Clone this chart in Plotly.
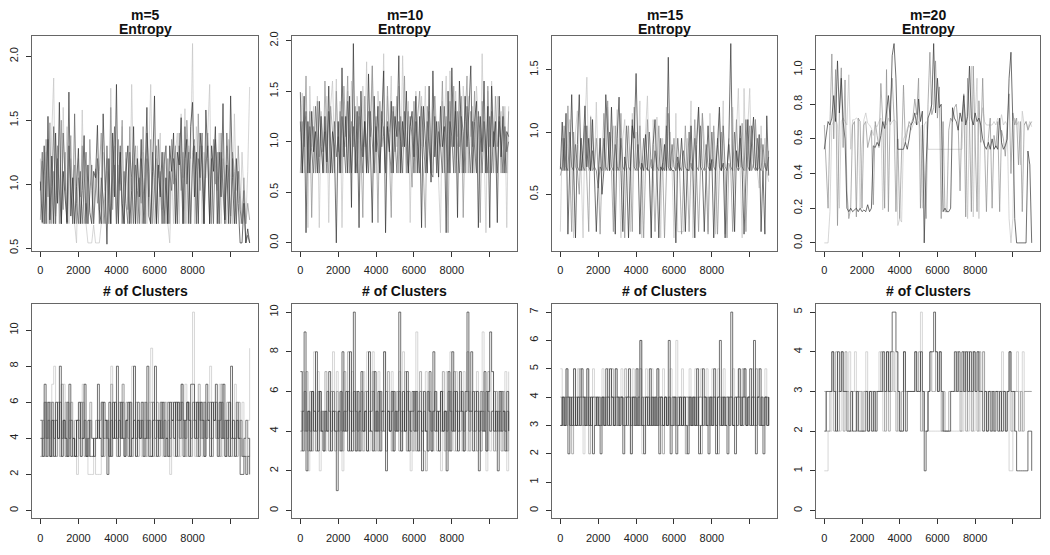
import plotly.graph_objects as go

ITER_STEP = 100  # thinning interval between stored draws

m_labels = ["m=5", "m=10", "m=15", "m=20"]
row_titles = ["Entropy", "# of Clusters"]
x_tickvals = [0, 2000, 4000, 6000, 8000, 10000]
x_ticktext = ["0", "2000", "4000", "6000", "8000", ""]

# ---------------- m = 5 ----------------
ent_m5_black = [
    1.02, 0.70, 1.30, 0.69, 1.53, 0.72, 1.22, 0.69, 1.40, 0.85,
    1.64, 0.69, 1.10, 0.92, 0.70, 1.72, 0.75, 1.05, 0.69, 0.98,
    1.28, 0.69, 0.95, 1.38, 0.69, 1.15, 0.78, 0.69, 1.10, 1.05,
    1.46, 0.80, 0.69, 1.55, 1.10, 0.53, 1.20, 0.69, 1.40, 0.90,
    1.78, 0.69, 1.25, 0.85, 0.69, 1.10, 1.30, 0.69, 0.95, 1.45,
    0.69, 1.20, 0.90, 1.35, 0.69, 1.05, 1.60, 0.75, 0.69, 1.10,
    1.69, 0.69, 1.15, 0.90, 1.25, 0.69, 1.05, 0.69, 1.30, 1.10,
    1.40, 0.69, 1.25, 1.15, 1.52, 0.69, 1.20, 1.35, 0.69, 1.45,
    1.64, 0.90, 1.25, 0.69, 1.40, 1.15, 0.69, 1.58, 1.20, 0.69,
    1.30, 1.10, 1.45, 0.69, 1.25, 0.90, 1.63, 0.72, 1.15, 0.69,
    1.69, 1.05, 0.69, 1.20, 0.85, 0.54, 0.54, 0.85, 0.54, 0.65, 0.54]
ent_m5_dark = [
    0.95, 1.25, 0.69, 1.10, 1.35, 0.69, 0.98, 1.45, 0.69, 1.20,
    0.90, 0.69, 1.40, 1.05, 0.69, 1.30, 0.95, 0.69, 1.55, 0.85,
    0.69, 1.10, 0.69, 1.00, 1.25, 0.69, 0.90, 1.15, 0.69, 0.95,
    1.20, 0.69, 1.05, 0.90, 0.69, 1.30, 0.85, 0.69, 1.15, 1.45,
    0.69, 0.95, 1.30, 0.69, 1.10, 0.85, 0.69, 1.25, 1.05, 0.69,
    1.15, 0.95, 0.69, 1.20, 1.00, 0.69, 1.40, 1.10, 0.69, 1.25,
    0.95, 0.69, 1.35, 1.05, 0.69, 1.15, 1.30, 0.69, 1.10, 0.95,
    1.20, 1.05, 0.69, 1.30, 1.10, 0.69, 1.45, 1.00, 1.25, 0.69,
    1.15, 1.30, 0.69, 1.20, 1.05, 1.40, 0.69, 1.15, 1.30, 0.69,
    1.20, 0.69, 1.35, 1.10, 0.69, 1.25, 1.00, 0.69, 1.40, 1.10,
    0.69, 1.20, 0.95, 0.69, 1.10, 0.80, 0.69, 0.95, 0.54, 0.60, 0.54]
ent_m5_mid = [
    0.72, 1.18, 0.69, 1.35, 0.90, 1.48, 0.69, 1.10, 0.75, 1.30,
    0.69, 1.50, 0.80, 1.25, 0.69, 1.05, 1.38, 0.69, 1.15, 0.69,
    1.05, 0.90, 1.30, 0.69, 0.85, 0.69, 1.35, 0.95, 0.69, 1.12,
    0.85, 1.10, 1.40, 0.69, 1.00, 1.20, 0.69, 1.60, 0.80, 1.15,
    0.69, 1.35, 0.95, 1.50, 0.69, 1.25, 0.80, 1.45, 0.69, 1.15,
    1.30, 0.69, 1.05, 0.85, 1.45, 0.69, 1.20, 0.90, 1.35, 0.69,
    1.05, 1.30, 0.69, 1.10, 0.80, 1.25, 0.69, 1.20, 0.69, 1.35,
    1.00, 1.30, 0.69, 1.40, 0.95, 1.25, 0.69, 1.50, 1.15, 0.69,
    1.25, 1.35, 0.69, 1.55, 0.95, 1.30, 0.69, 1.20, 1.40, 1.05,
    0.69, 1.35, 1.00, 1.25, 0.69, 1.40, 0.95, 0.69, 1.30, 1.05,
    0.75, 1.25, 1.10, 0.69, 1.30, 0.95, 0.69, 1.05, 0.69, 0.85, 0.72]
ent_m5_light = [
    1.20, 0.69, 1.10, 1.25, 0.69, 0.95, 1.40, 1.83, 0.69, 1.30,
    1.05, 0.69, 1.60, 0.95, 1.45, 0.69, 1.20, 1.00, 0.69, 0.54,
    1.20, 0.69, 1.58, 0.95, 0.69, 0.54, 0.54, 0.54, 0.68, 0.54,
    0.54, 0.54, 0.69, 1.25, 0.95, 1.10, 0.69, 1.75, 0.90, 1.30,
    0.69, 1.15, 1.00, 1.45, 0.69, 1.20, 0.95, 0.69, 1.78, 1.00,
    0.69, 1.30, 0.90, 0.69, 1.25, 1.10, 0.69, 1.35, 1.78, 0.95,
    0.69, 1.20, 1.05, 1.40, 0.69, 0.95, 1.30, 0.69, 0.54, 1.10,
    0.69, 1.25, 1.40, 0.69, 1.55, 1.05, 1.59, 0.69, 1.30, 1.20,
    2.10, 0.69, 1.45, 1.20, 1.30, 0.69, 1.25, 1.05, 1.40, 1.78,
    0.69, 1.30, 1.15, 0.95, 1.40, 0.69, 1.20, 1.05, 0.69, 1.35,
    1.05, 0.69, 1.55, 0.95, 1.10, 0.69, 1.25, 0.90, 0.69, 1.10, 1.76]
cl_m5_black = [
    4, 3, 7, 3, 6, 3, 5, 3, 6, 4,
    8, 3, 5, 4, 3, 7, 3, 4, 3, 5,
    6, 3, 4, 7, 3, 5, 3, 3, 4, 4,
    7, 4, 3, 6, 5, 2, 6, 3, 6, 4,
    8, 3, 6, 4, 3, 5, 6, 3, 4, 8,
    3, 5, 4, 6, 3, 4, 8, 3, 3, 5,
    8, 3, 5, 4, 6, 3, 4, 3, 6, 5,
    6, 3, 6, 5, 7, 3, 5, 6, 3, 7,
    7, 4, 6, 3, 6, 5, 3, 7, 5, 3,
    6, 5, 7, 3, 6, 4, 7, 3, 5, 3,
    8, 4, 3, 5, 4, 2, 2, 3, 2, 3, 2]
cl_m5_dark = [
    5, 4, 6, 4, 5, 3, 6, 4, 5, 4,
    6, 4, 5, 3, 6, 4, 5, 4, 3, 5,
    4, 6, 4, 5, 3, 4, 5, 4, 3, 4,
    5, 4, 6, 4, 5, 4, 3, 5, 4, 6,
    4, 5, 4, 6, 4, 5, 3, 6, 4, 5,
    4, 6, 4, 5, 4, 6, 4, 5, 3, 6,
    4, 5, 4, 6, 4, 5, 4, 6, 4, 5,
    4, 6, 5, 4, 6, 5, 4, 6, 5, 4,
    6, 5, 4, 6, 5, 4, 6, 4, 5, 6,
    4, 5, 6, 4, 5, 6, 4, 5, 4, 6,
    4, 5, 4, 6, 4, 5, 3, 4, 5, 4, 3]
cl_m5_mid = [
    3, 5, 3, 6, 4, 6, 3, 5, 3, 6,
    3, 7, 4, 6, 3, 5, 6, 3, 5, 3,
    5, 4, 6, 3, 4, 3, 6, 4, 3, 5,
    4, 5, 6, 3, 4, 5, 3, 7, 4, 5,
    3, 6, 4, 7, 3, 6, 4, 6, 3, 5,
    6, 3, 5, 4, 6, 3, 5, 4, 6, 3,
    5, 6, 3, 5, 4, 6, 3, 5, 3, 6,
    4, 6, 3, 6, 4, 5, 3, 6, 5, 3,
    5, 6, 3, 7, 4, 6, 3, 5, 6, 4,
    3, 6, 4, 5, 3, 7, 4, 3, 6, 5,
    3, 5, 4, 3, 6, 4, 3, 4, 3, 4, 3]
cl_m5_light = [
    5, 3, 4, 5, 3, 4, 7, 8, 3, 6,
    4, 3, 7, 4, 6, 3, 5, 4, 3, 2,
    5, 3, 7, 4, 3, 2, 2, 2, 3, 2,
    2, 2, 3, 5, 4, 5, 3, 8, 4, 6,
    3, 5, 4, 7, 3, 5, 4, 3, 8, 4,
    3, 6, 4, 3, 5, 5, 3, 6, 9, 4,
    3, 5, 4, 6, 3, 4, 6, 3, 2, 5,
    3, 5, 6, 3, 7, 4, 7, 3, 6, 5,
    11, 3, 6, 5, 6, 3, 5, 4, 6, 8,
    3, 6, 5, 4, 7, 3, 5, 4, 3, 6,
    4, 3, 7, 4, 5, 3, 6, 4, 5, 5, 9]

# ---------------- m = 10 ----------------
ent_m10_black = [
    1.49, 0.69, 1.45, 0.10, 1.20, 0.69, 1.30, 0.90, 1.10, 0.69,
    1.40, 0.95, 0.69, 1.25, 0.80, 1.55, 0.69, 1.10, 0.95, 0.00,
    1.20, 0.69, 1.73, 0.85, 1.25, 0.69, 1.45, 0.35, 1.97, 0.69,
    1.30, 0.15, 1.50, 0.85, 1.20, 0.69, 1.67, 0.95, 0.20, 1.45,
    0.90, 1.35, 0.69, 1.20, 1.70, 0.10, 1.15, 0.90, 1.40, 0.69,
    1.25, 1.05, 1.85, 0.69, 1.20, 0.95, 1.50, 0.69, 1.15, 1.30,
    0.85, 1.45, 0.69, 1.25, 0.15, 1.35, 1.00, 0.69, 1.55, 0.60,
    1.70, 0.85, 1.20, 0.65, 1.35, 0.95, 1.15, 0.10, 1.50, 0.69,
    1.73, 0.95, 1.40, 0.25, 1.60, 1.10, 0.69, 1.45, 0.95, 1.30,
    1.75, 0.69, 1.20, 1.40, 0.15, 1.25, 0.90, 1.60, 0.69, 1.35,
    0.15, 1.55, 0.95, 1.20, 0.20, 1.45, 0.85, 1.25, 0.69, 1.10, 1.05]
ent_m10_dark = [
    1.20, 0.69, 1.05, 1.30, 0.69, 1.15, 0.90, 0.69, 1.35, 1.00,
    0.69, 1.25, 0.90, 1.10, 0.69, 1.30, 0.95, 0.69, 1.20, 0.85,
    1.05, 0.69, 1.25, 0.95, 0.69, 1.40, 1.05, 0.69, 1.15, 0.90,
    0.69, 1.35, 1.05, 0.69, 1.20, 0.95, 0.69, 1.30, 1.00, 0.69,
    1.15, 0.90, 0.69, 1.30, 1.05, 0.69, 1.20, 0.95, 0.69, 1.35,
    1.05, 0.69, 1.20, 1.00, 0.69, 1.30, 0.95, 0.69, 1.25, 1.05,
    0.69, 1.20, 0.95, 0.69, 1.35, 1.05, 0.69, 1.20, 0.90, 0.69,
    0.65, 1.25, 0.69, 1.10, 0.95, 0.69, 1.35, 1.05, 0.69, 1.20,
    1.05, 0.69, 1.30, 0.95, 0.69, 1.25, 1.10, 0.69, 1.35, 1.00,
    0.69, 1.20, 0.95, 0.69, 1.30, 1.05, 0.69, 1.20, 0.95, 0.69,
    1.25, 0.69, 1.10, 0.95, 0.69, 1.20, 1.00, 0.69, 1.15, 0.90, 1.00]
ent_m10_mid = [
    0.69, 1.20, 0.95, 1.65, 0.69, 1.30, 0.25, 1.15, 0.69, 1.40,
    0.85, 1.25, 0.69, 1.60, 0.95, 0.69, 1.35, 1.10, 0.69, 1.50,
    0.90, 1.30, 0.69, 1.55, 1.05, 1.65, 0.69, 1.20, 0.95, 1.35,
    0.69, 1.25, 0.95, 0.25, 1.45, 0.69, 1.30, 1.05, 1.75, 0.69,
    1.25, 0.20, 1.40, 0.95, 1.15, 0.69, 1.55, 0.85, 0.25, 1.30,
    0.90, 1.45, 0.69, 1.25, 0.95, 1.65, 0.69, 1.30, 0.95, 0.55,
    1.40, 0.69, 1.25, 1.50, 0.95, 0.69, 0.15, 1.35, 1.05, 0.69,
    1.30, 1.45, 0.69, 1.20, 0.95, 1.60, 0.69, 1.25, 0.10, 1.40,
    0.95, 1.55, 0.69, 1.30, 0.95, 1.45, 0.25, 1.20, 1.65, 0.69,
    1.30, 0.95, 1.50, 0.69, 1.25, 0.20, 1.40, 1.05, 0.69, 1.55,
    0.95, 1.30, 0.69, 1.45, 0.95, 1.25, 0.69, 1.35, 0.95, 0.69, 1.30]
ent_m10_light = [
    1.10, 1.48, 0.69, 1.25, 0.15, 1.55, 0.95, 1.35, 0.69, 1.45,
    0.15, 1.30, 1.00, 0.69, 1.45, 0.20, 1.35, 1.60, 0.95, 1.62,
    0.69, 1.40, 0.15, 1.25, 0.95, 1.50, 0.69, 1.60, 1.05, 0.69,
    1.45, 1.15, 0.69, 1.55, 0.95, 1.79, 0.69, 1.35, 1.75, 1.05,
    0.69, 1.50, 1.20, 0.95, 1.87, 0.69, 1.45, 1.10, 1.65, 0.69,
    1.35, 0.95, 1.55, 0.69, 1.85, 1.05, 0.69, 1.40, 0.20, 1.25,
    0.69, 1.50, 1.10, 0.69, 1.45, 0.95, 1.55, 0.69, 1.30, 1.05,
    0.69, 1.45, 1.15, 0.69, 0.10, 1.40, 1.10, 1.65, 0.69, 1.70,
    1.10, 0.69, 1.50, 1.05, 1.30, 0.69, 1.55, 1.20, 0.69, 1.45,
    1.05, 1.35, 0.69, 1.55, 1.20, 0.69, 1.87, 1.05, 0.10, 1.50,
    0.69, 1.60, 1.20, 0.69, 1.45, 1.05, 1.30, 0.69, 1.35, 0.15, 1.35]
cl_m10_black = [
    7, 3, 9, 2, 5, 3, 6, 4, 8, 3,
    6, 4, 3, 5, 4, 7, 3, 5, 4, 1,
    5, 3, 8, 4, 6, 3, 8, 3, 10, 3,
    6, 3, 7, 4, 5, 3, 8, 4, 3, 7,
    4, 6, 3, 5, 8, 2, 5, 4, 6, 3,
    5, 4, 10, 3, 6, 4, 7, 3, 5, 6,
    4, 6, 3, 5, 2, 6, 4, 3, 7, 3,
    8, 4, 5, 3, 6, 4, 5, 2, 7, 3,
    8, 4, 6, 3, 7, 5, 3, 6, 10, 5,
    8, 3, 5, 6, 2, 5, 4, 7, 3, 6,
    9, 7, 4, 5, 2, 6, 4, 5, 3, 6, 4]
cl_m10_dark = [
    4, 5, 6, 4, 5, 4, 6, 5, 4, 5,
    6, 4, 5, 4, 6, 5, 4, 6, 5, 4,
    5, 6, 4, 5, 4, 6, 5, 4, 6, 5,
    4, 5, 6, 4, 5, 6, 4, 5, 6, 4,
    5, 4, 6, 5, 4, 6, 5, 4, 5, 6,
    4, 5, 6, 4, 5, 4, 6, 5, 4, 5,
    6, 4, 5, 6, 4, 5, 4, 6, 5, 4,
    5, 6, 4, 5, 6, 4, 5, 4, 6, 5,
    4, 6, 5, 4, 5, 6, 4, 5, 6, 4,
    5, 6, 4, 5, 4, 6, 5, 4, 6, 5,
    4, 5, 6, 4, 5, 4, 6, 5, 4, 5, 4]
cl_m10_mid = [
    3, 5, 4, 7, 3, 6, 3, 5, 3, 6,
    4, 5, 3, 7, 4, 3, 6, 5, 3, 6,
    4, 6, 3, 7, 5, 8, 3, 5, 4, 6,
    3, 5, 4, 3, 6, 3, 5, 4, 7, 3,
    5, 3, 6, 4, 5, 3, 7, 4, 3, 6,
    4, 6, 3, 5, 4, 7, 3, 6, 4, 3,
    6, 3, 5, 7, 4, 3, 2, 6, 5, 3,
    5, 6, 3, 5, 4, 7, 3, 5, 3, 6,
    4, 7, 3, 5, 4, 6, 3, 5, 8, 3,
    5, 4, 6, 3, 5, 3, 6, 4, 3, 7,
    4, 5, 3, 6, 4, 5, 3, 6, 4, 3, 5]
cl_m10_light = [
    5, 7, 3, 5, 2, 6, 4, 8, 3, 7,
    2, 5, 4, 3, 6, 3, 5, 8, 4, 7,
    3, 6, 2, 5, 4, 6, 3, 7, 5, 3,
    6, 5, 3, 7, 4, 8, 3, 6, 8, 5,
    3, 7, 5, 4, 8, 3, 6, 5, 7, 3,
    6, 4, 7, 3, 8, 5, 3, 6, 2, 5,
    3, 9, 5, 3, 6, 4, 7, 3, 6, 5,
    3, 6, 5, 3, 2, 6, 5, 7, 3, 8,
    5, 3, 7, 5, 6, 3, 7, 5, 3, 6,
    5, 6, 3, 7, 5, 3, 9, 5, 2, 6,
    3, 7, 5, 3, 6, 5, 6, 3, 7, 2, 7]

# ---------------- m = 15 ----------------
ent_m15_black = [
    0.70, 1.08, 0.69, 1.15, 0.18, 0.72, 1.30, 0.69, 0.15, 0.90,
    1.30, 0.69, 0.85, 1.21, 0.72, 0.95, 0.69, 1.10, 0.69, 0.20,
    0.60, 0.95, 0.50, 0.69, 1.30, 0.95, 0.69, 1.20, 0.69, 0.18,
    0.95, 1.28, 0.69, 0.20, 0.80, 0.69, 0.15, 0.72, 1.05, 0.95,
    1.47, 0.69, 0.18, 0.75, 0.69, 0.98, 0.70, 0.69, 0.15, 0.90,
    1.10, 0.69, 0.15, 0.72, 0.69, 0.90, 0.69, 1.60, 0.72, 0.69,
    0.69, 0.11, 0.80, 0.69, 0.95, 0.69, 0.20, 0.70, 0.69, 1.05,
    0.69, 0.15, 0.90, 1.20, 0.72, 0.69, 0.20, 0.69, 1.05, 0.69,
    0.78, 0.15, 0.69, 0.90, 1.20, 0.69, 0.75, 0.15, 0.69, 0.95,
    1.71, 0.69, 0.20, 0.85, 0.72, 1.05, 0.69, 0.18, 0.75, 1.10,
    0.69, 0.95, 1.12, 0.72, 0.69, 0.98, 0.20, 0.69, 0.18, 1.13, 0.65]
ent_m15_dark = [
    0.72, 0.69, 0.95, 0.72, 0.69, 1.00, 0.72, 0.69, 0.90, 0.72,
    0.69, 0.95, 0.72, 0.69, 1.05, 0.72, 0.69, 0.85, 0.72, 0.69,
    0.55, 0.72, 0.69, 0.95, 0.72, 0.69, 1.00, 0.72, 0.69, 0.90,
    0.72, 0.69, 0.95, 0.72, 0.69, 1.05, 0.72, 0.69, 1.10, 0.72,
    0.69, 0.90, 0.72, 0.69, 0.95, 0.72, 0.69, 1.00, 0.72, 0.69,
    0.85, 0.72, 0.69, 0.95, 0.72, 0.69, 1.05, 0.72, 0.69, 0.90,
    0.72, 0.69, 0.95, 0.72, 0.69, 0.85, 0.72, 0.69, 1.00, 0.72,
    0.69, 0.95, 0.72, 0.69, 1.05, 0.72, 0.69, 0.90, 0.72, 0.69,
    1.00, 0.72, 0.69, 0.95, 0.72, 0.69, 1.05, 0.72, 0.69, 0.90,
    0.72, 0.69, 1.00, 0.72, 0.69, 0.95, 0.72, 0.69, 1.10, 0.72,
    0.69, 1.05, 0.72, 0.69, 0.95, 0.72, 0.69, 0.90, 0.72, 0.69, 0.80]
ent_m15_mid = [
    0.65, 0.72, 1.05, 0.69, 1.21, 0.69, 0.20, 1.00, 0.72, 0.69,
    0.50, 0.95, 0.69, 1.05, 0.69, 0.20, 1.12, 0.69, 0.72, 0.95,
    0.69, 0.18, 0.72, 1.15, 0.69, 1.25, 0.72, 0.69, 0.20, 1.05,
    0.69, 0.72, 1.15, 0.69, 0.15, 0.75, 1.05, 0.69, 0.20, 1.20,
    0.72, 0.69, 1.05, 0.69, 0.15, 0.72, 1.10, 0.69, 0.78, 0.69,
    0.20, 0.72, 1.05, 0.69, 0.75, 0.15, 0.69, 1.15, 0.69, 0.72,
    0.95, 0.69, 0.75, 0.69, 0.18, 0.72, 1.05, 0.69, 0.20, 0.75,
    0.69, 1.10, 0.72, 0.20, 0.69, 1.15, 0.72, 0.69, 0.18, 0.75,
    0.69, 1.05, 0.72, 0.18, 0.69, 1.00, 0.72, 0.69, 0.15, 0.75,
    0.69, 0.20, 0.72, 1.10, 0.69, 0.72, 1.07, 0.69, 0.20, 0.72,
    1.05, 0.69, 0.75, 1.10, 0.69, 0.72, 0.95, 0.69, 0.75, 0.69, 0.85]
ent_m15_light = [
    0.20, 0.95, 0.72, 0.69, 0.95, 1.10, 0.69, 0.15, 1.00, 1.17,
    0.69, 0.70, 0.15, 1.05, 1.44, 0.69, 1.13, 0.95, 0.69, 1.24,
    0.69, 0.95, 0.72, 0.69, 1.10, 1.20, 0.69, 0.95, 1.05, 0.69,
    1.18, 0.69, 0.15, 0.95, 1.10, 0.69, 0.72, 0.20, 1.15, 0.69,
    1.00, 0.69, 1.25, 0.15, 0.69, 1.00, 1.29, 0.69, 0.15, 1.10,
    0.69, 1.12, 0.72, 0.15, 0.95, 0.69, 1.20, 0.69, 1.00, 0.69,
    0.15, 1.15, 0.20, 0.20, 0.20, 0.20, 0.69, 0.95, 0.69, 1.25,
    0.15, 0.69, 1.00, 1.20, 0.69, 1.15, 0.95, 0.69, 0.20, 1.15,
    0.69, 1.00, 0.18, 0.69, 1.15, 0.69, 1.25, 0.18, 0.69, 0.95,
    0.69, 1.20, 0.69, 1.00, 1.35, 0.69, 0.15, 1.35, 0.69, 1.05,
    1.35, 0.69, 0.72, 1.10, 0.69, 0.55, 1.05, 0.69, 0.95, 0.69, 0.60]
cl_m15_black = [
    3, 4, 3, 5, 2, 4, 3, 5, 3, 4,
    3, 5, 4, 3, 5, 3, 4, 2, 3, 4,
    3, 2, 4, 3, 5, 3, 5, 4, 3, 5,
    4, 3, 4, 2, 3, 4, 5, 2, 4, 3,
    5, 3, 6, 3, 2, 4, 3, 5, 3, 4,
    3, 5, 2, 4, 3, 4, 3, 6, 2, 3,
    4, 2, 3, 4, 3, 4, 3, 2, 4, 3,
    4, 3, 5, 2, 3, 5, 4, 3, 2, 4,
    3, 5, 2, 4, 6, 3, 4, 3, 2, 4,
    7, 3, 2, 4, 5, 3, 4, 5, 3, 4,
    5, 3, 6, 2, 4, 5, 3, 2, 4, 3, 4]
cl_m15_dark = [
    3, 4, 3, 4, 4, 3, 4, 3, 4, 3,
    4, 4, 3, 4, 3, 4, 3, 4, 4, 3,
    4, 3, 4, 3, 4, 4, 3, 4, 3, 4,
    3, 4, 4, 3, 4, 3, 4, 3, 4, 4,
    3, 4, 3, 4, 3, 4, 4, 3, 4, 3,
    4, 3, 4, 4, 3, 4, 3, 4, 3, 4,
    4, 3, 4, 3, 4, 3, 4, 4, 3, 4,
    3, 4, 3, 4, 4, 3, 4, 3, 4, 3,
    4, 4, 3, 4, 3, 4, 3, 4, 4, 3,
    4, 3, 4, 3, 4, 4, 3, 4, 3, 4,
    3, 4, 4, 3, 4, 3, 4, 3, 4, 4, 3]
cl_m15_mid = [
    4, 3, 4, 3, 4, 3, 2, 4, 3, 4,
    5, 3, 4, 3, 4, 2, 3, 4, 3, 4,
    3, 4, 3, 4, 3, 4, 3, 5, 4, 3,
    4, 3, 4, 3, 5, 4, 3, 4, 3, 4,
    3, 4, 5, 3, 4, 3, 4, 3, 4, 3,
    4, 3, 4, 3, 2, 4, 3, 4, 3, 4,
    3, 4, 3, 4, 3, 4, 2, 3, 4, 3,
    4, 3, 4, 3, 2, 4, 3, 4, 3, 4,
    3, 4, 3, 2, 4, 3, 4, 3, 4, 3,
    4, 3, 4, 3, 4, 3, 5, 4, 3, 4,
    3, 4, 3, 5, 4, 3, 4, 3, 4, 3, 4]
cl_m15_light = [
    5, 3, 4, 5, 4, 3, 4, 5, 3, 5,
    4, 3, 2, 4, 5, 3, 4, 5, 4, 3,
    4, 3, 5, 4, 3, 5, 4, 3, 4, 5,
    3, 4, 5, 3, 4, 3, 4, 2, 5, 4,
    3, 5, 6, 2, 4, 5, 3, 4, 5, 3,
    4, 5, 3, 4, 5, 3, 4, 3, 5, 4,
    3, 6, 4, 3, 5, 4, 3, 4, 5, 3,
    4, 5, 3, 4, 5, 3, 4, 5, 3, 4,
    5, 3, 4, 5, 3, 4, 5, 3, 4, 3,
    4, 5, 3, 4, 5, 3, 4, 5, 4, 3,
    4, 5, 3, 4, 5, 4, 3, 4, 5, 3, 4]

# ---------------- m = 20 ----------------
ent_m20_black = [
    0.54, 0.62, 0.70, 0.68, 0.72, 0.85, 0.70, 1.05, 0.75, 0.95,
    0.70, 0.60, 0.20, 0.18, 0.20, 0.18, 0.19, 0.20, 0.18, 0.20,
    0.18, 0.19, 0.18, 0.22, 0.18, 0.20, 0.56, 0.55, 0.58, 0.56,
    0.62, 0.70, 0.66, 0.75, 0.85, 0.70, 1.08, 1.15, 0.95, 0.54,
    0.54, 0.54, 0.54, 0.58, 0.54, 0.60, 0.68, 0.70, 0.75, 0.68,
    0.83, 0.70, 0.76, 0.00, 0.45, 0.72, 0.75, 0.80, 1.15, 0.75,
    0.95, 0.78, 0.80, 0.18, 0.20, 0.18, 0.18, 0.20, 0.78, 0.72,
    0.70, 0.65, 0.75, 0.70, 0.85, 0.68, 0.73, 1.02, 0.72, 0.68,
    0.75, 0.70, 0.72, 0.68, 0.60, 0.56, 0.54, 0.58, 0.54, 0.60,
    0.54, 0.56, 0.54, 0.72, 0.58, 0.54, 0.56, 0.60, 0.95, 1.10,
    0.70, 0.14, 0.00, 0.00, 0.00, 0.00, 0.00, 0.00, 0.53, 0.45, 0.00]
ent_m20_mid = [
    0.68, 0.45, 0.20, 0.68, 1.09, 0.60, 1.00, 0.10, 0.75, 1.01,
    0.55, 0.94, 0.30, 0.14, 0.20, 0.68, 0.70, 0.15, 0.72, 0.70,
    0.20, 0.68, 0.70, 0.55, 0.60, 0.65, 0.22, 0.70, 0.62, 0.55,
    0.92, 0.70, 0.20, 1.00, 0.18, 0.80, 0.95, 0.72, 0.18, 0.60,
    0.14, 0.55, 0.91, 0.58, 0.65, 0.70, 0.68, 0.72, 0.83, 0.74,
    0.95, 0.20, 0.68, 0.35, 0.14, 0.80, 1.10, 0.74, 0.78, 1.05,
    0.72, 0.90, 0.14, 0.70, 0.18, 0.18, 0.65, 0.72, 0.70, 0.78,
    0.80, 0.68, 0.30, 0.72, 0.86, 0.15, 0.95, 0.70, 0.18, 1.02,
    0.60, 0.18, 0.82, 0.58, 0.95, 0.55, 0.18, 0.60, 0.72, 0.20,
    0.62, 0.55, 0.70, 0.18, 0.65, 0.60, 0.50, 0.68, 0.86, 0.40,
    0.75, 0.68, 0.72, 0.45, 0.70, 0.18, 0.68, 0.70, 0.65, 0.68, 0.70]
ent_m20_light = [
    0.00, 0.00, 0.00, 0.18, 0.68, 0.70, 0.72, 0.68, 0.20, 0.70,
    0.72, 0.70, 0.68, 0.97, 0.54, 0.71, 0.71, 0.72, 0.71, 0.20,
    0.54, 0.71, 0.75, 0.69, 0.68, 0.66, 0.62, 0.68, 0.67, 0.70,
    0.72, 0.19, 0.70, 0.68, 0.72, 0.68, 0.70, 0.71, 0.70, 0.10,
    0.14, 0.12, 0.60, 0.62, 0.66, 0.68, 0.65, 0.68, 0.70, 0.68,
    0.70, 0.66, 0.20, 0.68, 0.70, 0.54, 0.54, 0.54, 0.54, 0.54,
    0.54, 0.54, 0.54, 0.54, 0.54, 0.54, 0.54, 0.54, 0.54, 0.54,
    0.54, 0.54, 0.54, 0.54, 0.80, 0.68, 0.14, 0.70, 1.02, 0.15,
    0.72, 0.95, 0.14, 0.68, 0.78, 0.70, 0.68, 0.68, 0.68, 0.68,
    0.70, 0.68, 0.72, 0.68, 0.74, 0.68, 0.70, 0.68, 0.14, 0.00,
    0.14, 0.72, 0.68, 0.70, 0.45, 0.76, 0.68, 0.70, 0.66, 0.70, 0.67]
cl_m20_black = [
    2, 3, 3, 3, 4, 3, 2, 4, 3, 4,
    3, 3, 2, 2, 3, 2, 2, 3, 2, 2,
    2, 2, 3, 2, 3, 2, 3, 2, 3, 3,
    3, 4, 3, 4, 3, 4, 5, 5, 4, 3,
    2, 2, 4, 2, 3, 3, 3, 3, 4, 3,
    3, 4, 3, 1, 2, 3, 4, 4, 5, 4,
    3, 4, 3, 2, 2, 2, 2, 3, 3, 4,
    3, 4, 3, 4, 3, 4, 3, 4, 3, 4,
    3, 4, 3, 3, 2, 3, 2, 3, 2, 3,
    2, 3, 2, 3, 2, 3, 2, 3, 4, 3,
    3, 2, 1, 1, 1, 1, 1, 1, 2, 2, 1]
cl_m20_mid = [
    3, 2, 2, 3, 4, 2, 4, 2, 3, 4,
    2, 4, 3, 2, 2, 3, 3, 2, 3, 3,
    2, 3, 3, 2, 3, 3, 2, 3, 3, 3,
    4, 3, 2, 4, 2, 3, 4, 3, 2, 3,
    2, 3, 4, 3, 3, 3, 3, 3, 4, 3,
    4, 2, 3, 2, 2, 3, 4, 3, 3, 4,
    3, 4, 2, 3, 2, 2, 3, 3, 3, 3,
    4, 3, 2, 3, 4, 2, 4, 3, 2, 4,
    3, 2, 4, 3, 4, 3, 2, 3, 3, 2,
    3, 3, 3, 2, 3, 3, 2, 3, 4, 2,
    3, 3, 3, 2, 3, 2, 3, 3, 3, 3, 3]
cl_m20_light = [
    1, 1, 2, 2, 3, 3, 3, 3, 2, 3,
    3, 3, 3, 4, 3, 3, 4, 3, 3, 2,
    3, 3, 4, 3, 3, 3, 3, 3, 3, 4,
    3, 2, 3, 3, 4, 3, 3, 3, 4, 2,
    2, 2, 3, 3, 3, 3, 3, 3, 3, 3,
    3, 5, 2, 3, 3, 2, 2, 2, 2, 2,
    2, 2, 2, 2, 2, 2, 2, 2, 2, 2,
    2, 2, 2, 2, 4, 3, 2, 3, 4, 2,
    3, 4, 2, 3, 4, 3, 3, 3, 3, 3,
    3, 3, 3, 3, 4, 3, 3, 3, 1, 1,
    2, 3, 4, 3, 2, 4, 3, 3, 3, 3, 3]

LIGHT, MID, DARK, BLACK = "#c4c4c4", "#8e8e8e", "#606060", "#333333"

entropy_chains = [
    [(ent_m5_light, LIGHT), (ent_m5_mid, MID), (ent_m5_dark, DARK), (ent_m5_black, BLACK)],
    [(ent_m10_light, LIGHT), (ent_m10_mid, MID), (ent_m10_dark, DARK), (ent_m10_black, BLACK)],
    [(ent_m15_light, LIGHT), (ent_m15_mid, MID), (ent_m15_dark, DARK), (ent_m15_black, BLACK)],
    [(ent_m20_light, LIGHT), (ent_m20_mid, MID), (ent_m20_black, BLACK)],
]
cluster_chains = [
    [(cl_m5_light, LIGHT), (cl_m5_mid, MID), (cl_m5_dark, DARK), (cl_m5_black, BLACK)],
    [(cl_m10_light, LIGHT), (cl_m10_mid, MID), (cl_m10_dark, DARK), (cl_m10_black, BLACK)],
    [(cl_m15_light, LIGHT), (cl_m15_mid, MID), (cl_m15_dark, DARK), (cl_m15_black, BLACK)],
    [(cl_m20_light, LIGHT), (cl_m20_mid, MID), (cl_m20_black, BLACK)],
]

entropy_ticks = [[0.5, 1.0, 1.5, 2.0], [0.0, 0.5, 1.0, 1.5, 2.0],
                 [0.5, 1.0, 1.5], [0.0, 0.2, 0.4, 0.6, 0.8, 1.0]]
entropy_ticktext = [["0.5", "1.0", "1.5", "2.0"], ["0.0", "0.5", "1.0", "1.5", "2.0"],
                    ["0.5", "1.0", "1.5"], ["0.0", "0.2", "0.4", "0.6", "0.8", "1.0"]]
cluster_ticks = [[0, 2, 4, 6, 8, 10], [0, 2, 4, 6, 8, 10],
                 [0, 1, 2, 3, 4, 5, 6, 7], [0, 1, 2, 3, 4, 5]]

# ---------- layout geometry (page pixels; body margin removed by post_script) ----------
W, H = 1050, 555
col_px = [(32, 258), (292, 517), (552, 777), (816, 1040)]
row_px = [(32, 250), (304, 521)]
entropy_ranges = [[0.478, 2.162], [-0.079, 2.049], [0.046, 1.774], [-0.046, 1.196]]
cluster_ranges = [[-0.44, 11.44], [-0.40, 10.40], [-0.28, 7.28], [-0.20, 5.20]]
x_range = [-440, 11440]
FONT = "Liberation Sans, Arial, Helvetica, sans-serif"


def px_x(p):
    return p / W


def px_y(p):
    return 1 - p / H


fig = go.Figure()
layout = dict(
    width=W, height=H, margin=dict(l=0, r=0, t=0, b=0),
    paper_bgcolor="white", plot_bgcolor="white", showlegend=False,
    hovermode=False, font=dict(family=FONT, size=11, color="#222"),
)
annotations = []

for row in range(2):
    for col in range(4):
        k = row * 4 + col + 1
        xa = "xaxis" if k == 1 else f"xaxis{k}"
        ya = "yaxis" if k == 1 else f"yaxis{k}"
        xref = "x" if k == 1 else f"x{k}"
        yref = "y" if k == 1 else f"y{k}"
        chains = entropy_chains[col] if row == 0 else cluster_chains[col]
        for ys, color in chains:
            xs = [i * ITER_STEP for i in range(len(ys))]
            fig.add_trace(go.Scatter(
                x=xs, y=ys, mode="lines", xaxis=xref, yaxis=yref,
                line=dict(color=color, width=0.7,
                          shape="linear" if row == 0 else "hv"),
                hoverinfo="skip"))
        l, r = col_px[col]
        t, b = row_px[row]
        layout[xa] = dict(
            domain=[px_x(l), px_x(r)], anchor=yref, range=x_range,
            tickmode="array", tickvals=x_tickvals, ticktext=x_ticktext,
            ticks="outside", ticklen=5, tickcolor="#333", tickwidth=1,
            showline=True, linecolor="#666", linewidth=1, mirror=True,
            showgrid=False, zeroline=False, ticklabelstandoff=4,
            tickfont=dict(family=FONT, size=11, color="#222"))
        if row == 0:
            yt, ytt, yr = entropy_ticks[col], entropy_ticktext[col], entropy_ranges[col]
        else:
            yt = cluster_ticks[col]
            ytt = [str(v) for v in yt]
            yr = cluster_ranges[col]
        layout[ya] = dict(
            domain=[px_y(b), px_y(t)], anchor=xref, range=yr,
            tickmode="array", tickvals=yt, ticktext=ytt, tickangle=-90,
            ticks="outside", ticklen=5, tickcolor="#333", tickwidth=1,
            showline=True, linecolor="#666", linewidth=1, mirror=True,
            showgrid=False, zeroline=False, ticklabelstandoff=4,
            tickfont=dict(family=FONT, size=11, color="#222"))
        cx = px_x((l + r) / 2)
        title_font = dict(family=FONT, size=14, color="#111")
        if row == 0:
            annotations.append(dict(text="<b>" + m_labels[col] + "</b>", x=cx, y=px_y(11),
                                    xref="paper", yref="paper", showarrow=False,
                                    xanchor="center", yanchor="middle", font=title_font))
            annotations.append(dict(text="<b>" + row_titles[0] + "</b>", x=cx, y=px_y(25),
                                    xref="paper", yref="paper", showarrow=False,
                                    xanchor="center", yanchor="middle", font=title_font))
        else:
            annotations.append(dict(text="<b>" + row_titles[1] + "</b>", x=cx, y=px_y(291),
                                    xref="paper", yref="paper", showarrow=False,
                                    xanchor="center", yanchor="middle", font=title_font))

layout["annotations"] = annotations
fig.update_layout(**layout)
fig.write_html("out.html", config={"displayModeBar": False},
               post_script="document.body.style.margin='0px';")
